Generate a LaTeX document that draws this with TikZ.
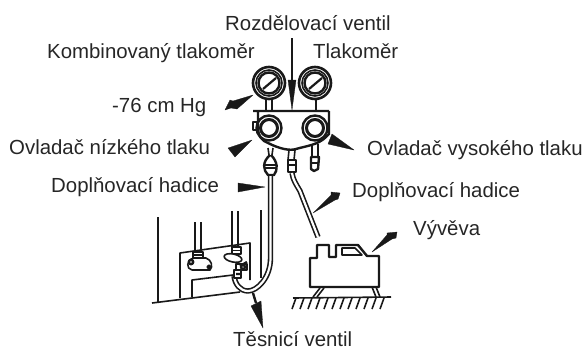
\documentclass[tikz,border=0pt]{standalone}
\usepackage{fontspec}
\setmainfont{Liberation Sans}
\usetikzlibrary{calc}
\tikzset{
 x=1bp,y=-1bp,
 lbl/.style={font=\fontsize{20.4bp}{22bp}\selectfont,inner sep=0pt,anchor=base west,text=black!85},
 ink/.style={line width=1.6bp,draw=black!90,line join=round},
 thick ink/.style={line width=2.4bp,draw=black!90,line join=round},
 hose/.style={double=white,double distance=2.2bp,line width=1.6bp,draw=black!90},
 ptr/.style={fill=black!90,draw=black!90,line width=.3bp,line join=round},
}
\begin{document}
\begin{tikzpicture}
\useasboundingbox (0,0) rectangle (582,349);
% labels
\node[lbl] (t1) at (225,30) {Rozdělovací ventil};
\node[lbl] (t2) at (47,58) {Kombinovaný tlakoměr};
\node[lbl] (t3) at (313,58) {Tlakoměr};
\node[lbl] (t4) at (112,112) {-76 cm Hg};
\node[lbl] (t5) at (9,154) {Ovladač nízkého tlaku};
\node[lbl] (t6) at (367,155) {Ovladač vysokého tlaku};
\node[lbl] (t7) at (51,192) {Doplňovací hadice};
\node[lbl] (t8) at (352,197) {Doplňovací hadice};
\node[lbl] (t9) at (413,235) {Vývěva};
\node[lbl] (t10) at (233,346) {Těsnicí ventil};
% gauges
\foreach \n/\cx in {l/269,r/315}{
 \coordinate (g\n) at (\cx,83);
 \draw[line width=2.6bp,draw=black!90] (g\n) circle (16);
 \draw[ink] (g\n) circle (13);
 \draw[thick ink] (g\n) circle (10.5);
 \draw[line width=2.2bp,draw=black!90] ($(g\n)+(-6,6)$) -- ($(g\n)+(7,-5)$);
 \coordinate (k\n) at (\cx,128);
 \draw[line width=2.4bp,draw=black!90] (k\n) circle (12.5);
 \draw[line width=3bp,draw=black!90] (k\n) circle (8.5);
}
% gauge stems
\draw[ink] (266,100) -- (266,111) (272,100) -- (272,111);
\draw[ink] (316,100) -- (316,111);
% manifold
\draw[thick ink] (253,111) -- (329,111) (258,111) -- (258,128) .. controls (258,136) and (262,141) .. (268,143) .. controls (280,149) and (290,151) .. (296,149) .. controls (306,146) and (318,145) .. (326,137) -- (329,134) -- (329,111);
\draw[ink] (253,122) rectangle (257,130);
% left fitting
\draw[ink] (268,148) -- (269,155) (273,148) -- (272,155);
\draw[thick ink] (270,155) .. controls (262,162) and (263,170) .. (268,175) -- (274,175) .. controls (278,170) and (278,162) .. (271,155);
\draw[ink] (264,165) -- (277,165) (265,168) -- (276,168);
% middle fitting
\draw[ink] (289,150) -- (288,160) (295,150) -- (294,160);
\draw[thick ink] (288,160) -- (296,160) -- (296,172) -- (288,172) -- cycle;
\draw[ink] (288,165) -- (296,165);
% right fitting
\draw[ink] (312,144) -- (312,157) (318,144) -- (318,157);
\draw[thick ink] (311,157) -- (319,157) -- (318,169) -- (314,171) -- (311,169) -- cycle;
\draw[ink] (311,163) -- (319,163);
% hoses
\draw[hose] (270.5,176) -- (270.5,258) .. controls (270.5,278) and (257,291) .. (248,291) .. controls (240,291) and (235,284) .. (234,276);
\draw[hose] (292,173) .. controls (293,180) and (296,184) .. (300,191) -- (318,237);
% building / unit
\draw[ink] (158,217) -- (158,303) (152,303) -- (240,292);
\draw[ink] (180,298) -- (180,253) -- (250,243) -- (250,280);
\draw[ink] (192,297) -- (192,280) -- (233,275);
\draw[ink] (195,222) -- (195,252) (201,222) -- (201,252);
\draw[ink] (232,211) -- (232,247) (238,211) -- (238,247);
\draw[thick ink] (261,210) -- (261,278);
% valve 1
\draw[ink] (193,252) rectangle (203,258) (193,255) -- (203,255);
\draw[ink] (194,258) .. controls (186,260) and (186,269) .. (192,270) -- (210,270) .. controls (213,267) and (212,260) .. (206,258) -- cycle;
\draw[thick ink] (191,262) circle (2.2) (209,267) circle (1.5);
% valve 2
\draw[ink,fill=white] (232,247) rectangle (241,254) (232,250.5) -- (241,250.5);
\draw[ink,fill=white,rotate around={-12:(233,258)}] (233,258) ellipse (9 and 4);
\draw[ink,fill=white] (236,264) rectangle (247,270);
\draw[ink,fill=white] (234,270) rectangle (241,278);
\draw[thick ink] (240,266) -- (247,262) (236,274) -- (241,274) (243,267) circle (2);
% vacuum pump
\draw[thick ink] (310,258) -- (317,258) -- (317,245) -- (329,245) -- (329,257) -- (336,257) -- (336,245) -- (358,245) -- (367,256) -- (379,256) -- (379,287) -- (310,287) -- cycle;
\draw[ink] (342,248) -- (355,248) -- (362,255) -- (342,255) -- cycle;
\draw[ink] (320,288) -- (313,297) (324,288) -- (317,297) (372,287) -- (376,297) (376,287) -- (380,297);
\draw[ink] (293,298) -- (391,297);
\foreach \x in {296,304,...,384}{\draw[ink] (\x,298) -- ++(-4,11);}
% pointers
\coordinate (p1a) at (292,38); \coordinate (p1b) at (292,80);
\draw[line width=1.2bp,draw=black!90] (p1a) -- (p1b);
\fill[ptr] (292,110) -- (288,80) -- (296,80) -- cycle;
\fill[ptr] (253,95) -- (233,101) -- (230,100) -- (225,110) -- (231,108) -- (237,109) -- cycle;
\fill[ptr] (252,140) -- (228,148) -- (235,157) -- cycle;
\fill[ptr] (354,150) -- (332,134) -- (328,144) -- cycle;
\fill[ptr] (265,187) -- (238,183) -- (238,192) -- cycle;
\fill[ptr] (313,213) -- (331,195) -- (331,192) -- (340,193) -- (338,199) -- (335,200) -- cycle;
\fill[ptr] (372,252) -- (387,235) -- (387,233) -- (397,232) -- (396,238) -- (392,239) -- cycle;
\draw[thick ink] (253,293) -- (256,303);
\fill[ptr] (263,328) -- (251,306) -- (261,301) -- cycle;
\end{tikzpicture}
\end{document}
